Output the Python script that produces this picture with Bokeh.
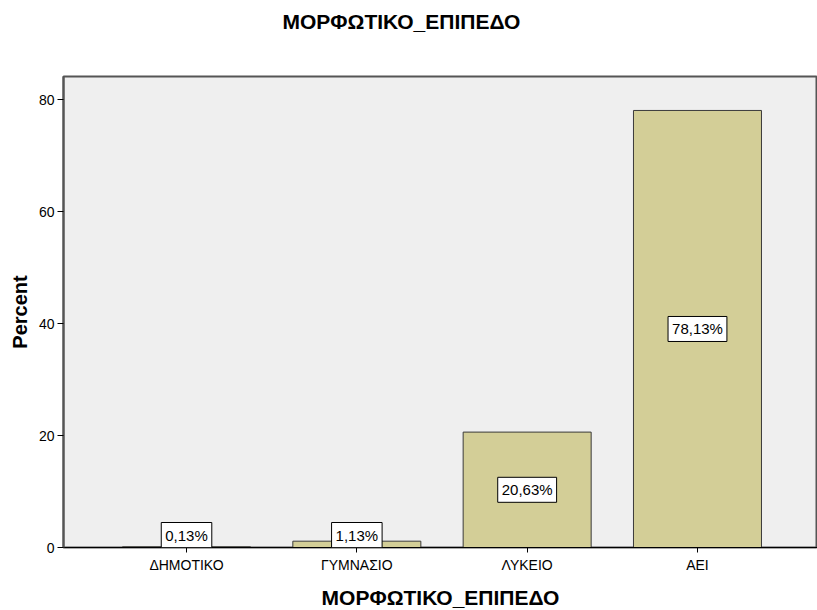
from bokeh.plotting import figure
from bokeh.models import Range1d, FixedTicker, ColumnDataSource, Label, Title
from bokeh.embed import file_html
from bokeh.resources import INLINE

# ---- data ----
categories = ["ΔΗΜΟΤΙΚΟ", "ΓΥΜΝΑΣΙΟ", "ΛΥΚΕΙΟ", "ΑΕΙ"]
percents = [0.13, 1.13, 20.63, 78.13]
y_ticks = [0, 20, 40, 60, 80]
title_text = "ΜΟΡΦΩΤΙΚΟ_ΕΠΙΠΕΔΟ"
x_label = "ΜΟΡΦΩΤΙΚΟ_ΕΠΙΠΕΔΟ"
y_label = "Percent"

xs = list(range(len(categories)))
labels = [("%.2f%%" % v).replace(".", ",") for v in percents]

FONT = "Liberation Sans"
Y_MAX = 84.2
FRAME_H = 471
BOX_HALF = 12.5 * Y_MAX / FRAME_H   # half a label box, in data units
label_y = [max(v / 2, BOX_HALF) for v in percents]

p = figure(
    frame_width=754, frame_height=FRAME_H,
    x_range=Range1d(-0.7223, 3.7047),
    y_range=Range1d(0, Y_MAX),
    output_backend="svg", toolbar_location=None,
    min_border_left=63, min_border_right=0, min_border_top=76, min_border_bottom=63,
)
p.title = None
# spacer between the frame and the chart title (added first = nearest the frame)
p.add_layout(Title(text=" ", text_font_size="1px", standoff=41), "above")
p.add_layout(Title(text=title_text, align="left", offset=219,
                   text_font=FONT, text_font_size="21px", text_font_style="bold",
                   text_color="#000000", standoff=0), "above")

p.background_fill_color = "#EFEFEF"
p.border_fill_color = "#FFFFFF"
p.outline_line_color = "#555555"
p.outline_line_width = 2
p.xgrid.visible = False
p.ygrid.visible = False

src = ColumnDataSource(dict(x=xs, top=percents))
p.vbar(x="x", top="top", bottom=0, width=0.7516, source=src,
       fill_color="#D3CE97", line_color="#3A3A3A", line_width=1)

for xv, yv, txt in zip(xs, label_y, labels):
    p.add_layout(Label(x=xv, y=yv, text=txt,
                       text_align="center", text_baseline="middle",
                       text_font=FONT, text_font_size="15px", text_color="#000000",
                       background_fill_color="#FFFFFF", border_line_color="#000000",
                       border_line_width=1, padding=4))

# x axis
p.xaxis.ticker = FixedTicker(ticks=xs)
p.xaxis.major_label_overrides = {i: c for i, c in zip(xs, categories)}
p.xaxis.minor_tick_line_color = None
p.xaxis.major_tick_out = 5
p.xaxis.major_tick_in = 0
p.xaxis.axis_line_color = "#000000"
p.xaxis.major_tick_line_color = "#000000"
p.xaxis.major_label_text_font = FONT
p.xaxis.major_label_text_font_size = "14px"
p.xaxis.major_label_text_color = "#000000"
p.xaxis.major_label_standoff = 4
p.xaxis.axis_label = x_label
p.xaxis.axis_label_text_font = FONT
p.xaxis.axis_label_text_font_size = "21px"
p.xaxis.axis_label_text_font_style = "bold"
p.xaxis.axis_label_text_color = "#000000"
p.xaxis.axis_label_standoff = 10

# y axis
p.yaxis.ticker = FixedTicker(ticks=y_ticks)
p.yaxis.minor_tick_line_color = None
p.yaxis.major_tick_out = 6
p.yaxis.major_tick_in = 0
p.yaxis.axis_line_color = "#555555"
p.yaxis.axis_line_width = 2
p.yaxis.major_tick_line_color = "#000000"
p.yaxis.major_label_text_font = FONT
p.yaxis.major_label_text_font_size = "14px"
p.yaxis.major_label_text_color = "#000000"
p.yaxis.major_label_standoff = 3
p.yaxis.axis_label = y_label
p.yaxis.axis_label_text_font = FONT
p.yaxis.axis_label_text_font_size = "20px"
p.yaxis.axis_label_text_font_style = "bold"
p.yaxis.axis_label_text_color = "#000000"
p.yaxis.axis_label_standoff = 5

open("out.html", "w").write(file_html(p, INLINE))
